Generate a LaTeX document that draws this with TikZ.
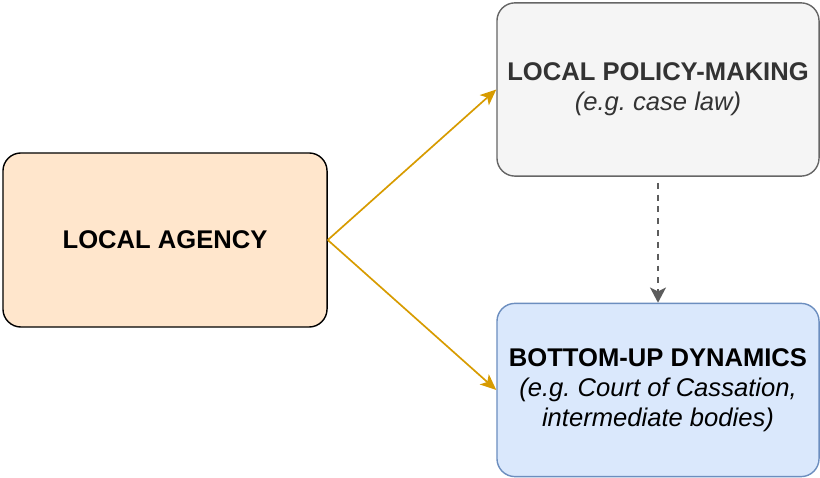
\documentclass[tikz,border=0pt]{standalone}
\usepackage{fontspec}
\setmainfont{Liberation Sans}
\usetikzlibrary{arrows.meta}
\definecolor{agencyfill}{HTML}{FFE6CC}
\definecolor{policyfill}{HTML}{F5F5F5}
\definecolor{policyline}{HTML}{666666}
\definecolor{dynfill}{HTML}{DAE8FC}
\definecolor{dynline}{HTML}{6C8EBF}
\definecolor{flow}{HTML}{D79B00}
\begin{document}
\begin{tikzpicture}[x=0.025cm, y=0.025cm,
  every node/.style={font=\fontsize{18.2}{21.5}\selectfont},
  box/.style={rounded corners=0.45cm, line width=1pt, align=center,
    inner sep=0pt, minimum width=8.05cm, minimum height=4.33cm},
  flowarrow/.style={draw=flow, line width=1.2pt,
    -{Stealth[length=0.4cm, width=0.34cm, inset=0.1cm]}},
  hintarrow/.style={draw=policyline!90!black, line width=1.3pt,
    dash pattern=on 4.2pt off 4.2pt, shorten <=0.15cm,
    -{Stealth[length=0.38cm, width=0.4cm, inset=0.1cm]}}]
  \useasboundingbox (0,0) rectangle (820,478);
  % the three boxes
  \node[box, fill=agencyfill, draw=black, minimum width=8.1cm, minimum height=4.35cm]
    (agency) at (165,238) {\textbf{LOCAL AGENCY}};
  \node[box, fill=policyfill, draw=policyline, text=black!80]
    (policy) at (658,388.5) {\textbf{LOCAL POLICY-MAKING}\\\textit{(e.g.\ case law)}};
  \node[box, fill=dynfill, draw=dynline]
    (dyn) at (658,88) {\textbf{BOTTOM-UP DYNAMICS}\\\textit{(e.g.\ Court of Cassation,}\\\textit{intermediate bodies)}};
  % connectors
  \draw[flowarrow] (agency.east) -- (policy.west);
  \draw[flowarrow] (agency.east) -- (dyn.west);
  \draw[hintarrow] (policy.south) -- (dyn.north);
\end{tikzpicture}
\end{document}
